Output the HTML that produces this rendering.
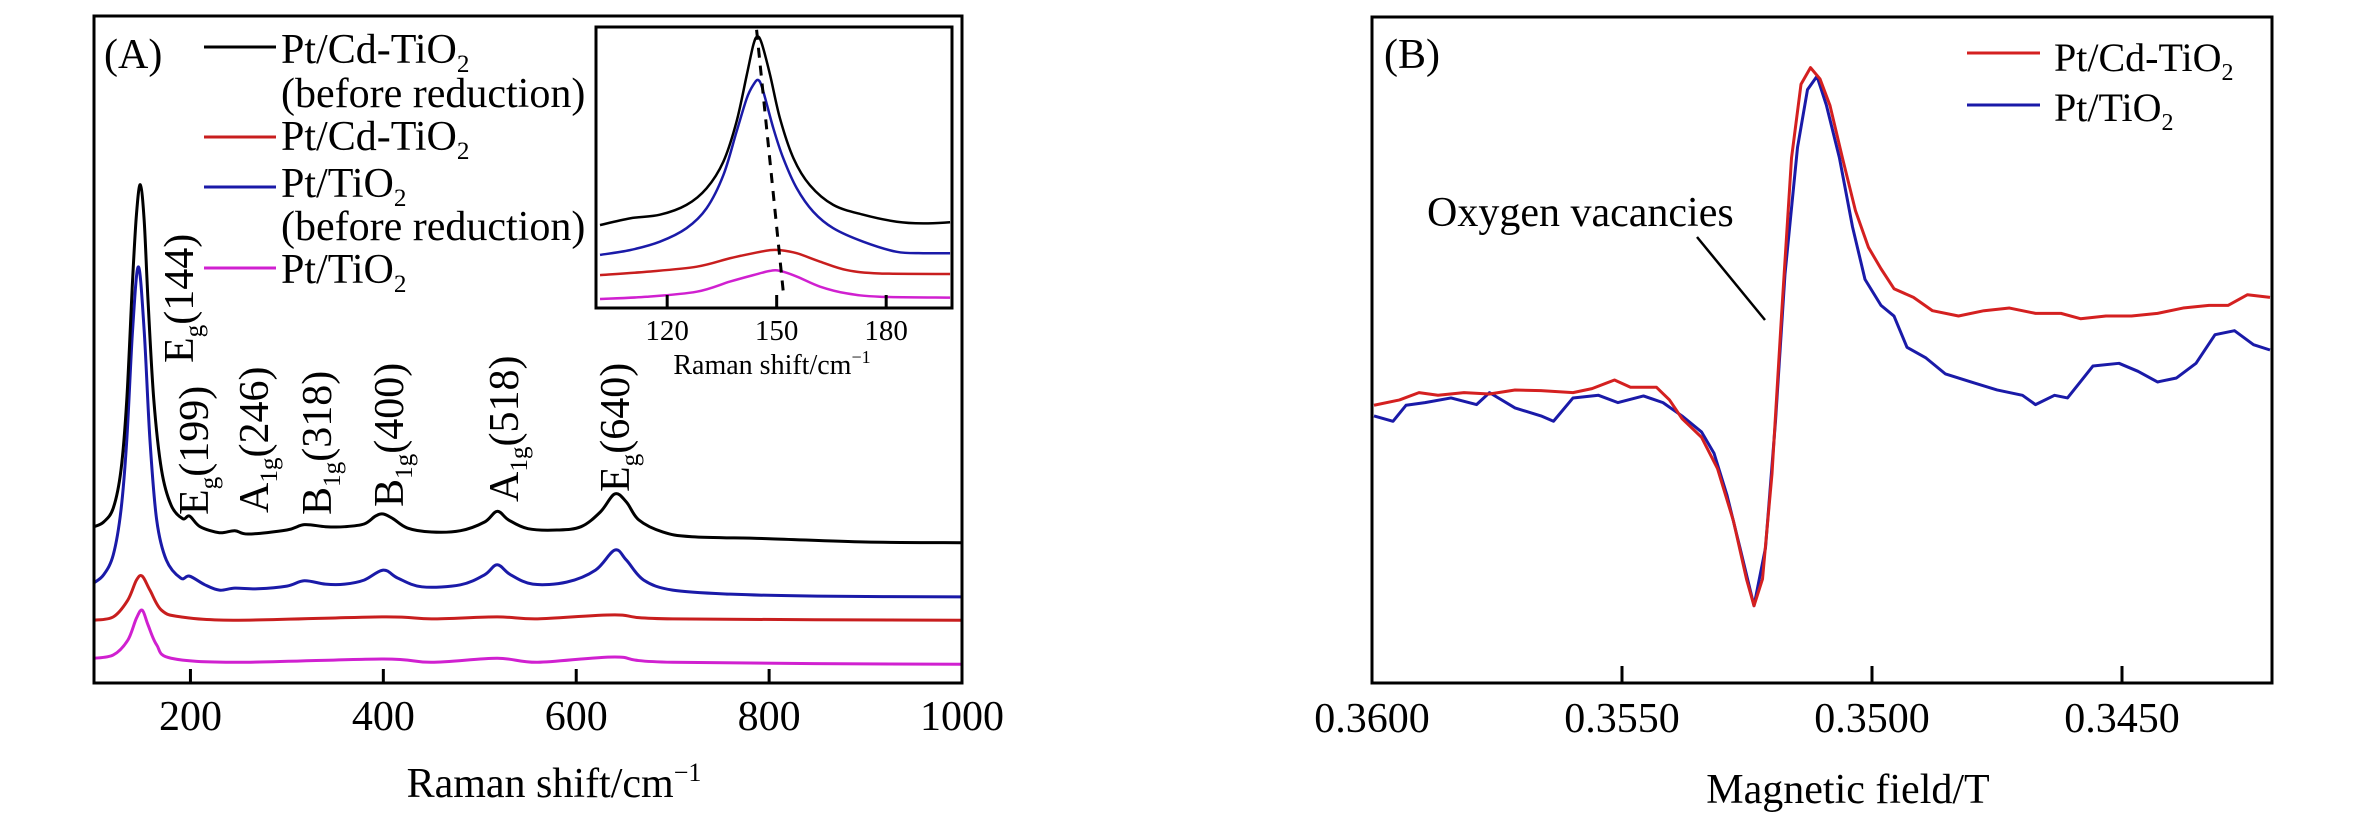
<!DOCTYPE html>
<html><head><meta charset="utf-8"><style>
html,body{margin:0;padding:0;background:#fff;}
svg{display:block;font-family:"Liberation Serif",serif;}
</style></head><body>
<svg id="fig" width="2362" height="819" viewBox="0 0 2362 819" xmlns="http://www.w3.org/2000/svg">
<rect x="0" y="0" width="2362" height="819" fill="#fff"/>
<g id="panelA"></g>
<g id="panelB"></g>
</svg>
<script>
// ---------- Panel A data (Raman) ----------
const ramanBlackX = [100,110,120,128,134,140,144,148,152,156,162,170,180,192,199,210,230,246,260,300,318,340,360,380,392,400,410,425,450,480,505,518,530,550,580,605,625,640,652,665,690,720,800,900,1000];
const ramanBlackY = [23.4,24.1,26.2,31.9,42.4,60.3,70.1,74.6,69.3,57.3,42.4,31.9,26.6,24.6,25.0,23.4,22.5,22.8,22.3,22.9,23.7,23.4,23.4,23.8,25.0,25.3,24.6,23.2,22.6,22.8,24.1,25.7,24.4,23.1,22.9,23.4,25.6,28.3,27.1,24.4,22.6,21.9,21.6,21.1,21.0];
const ramanBlueX = [100,110,120,128,134,140,146,152,158,165,175,190,199,215,230,246,270,300,318,340,360,380,400,415,440,480,505,518,532,555,590,620,640,652,670,700,760,850,1000];
const ramanBlueY = [15.0,16.2,19.2,25.9,36.4,52.8,62.3,52.8,36.4,24.4,18.4,15.7,16.0,14.7,13.9,14.2,14.1,14.5,15.3,14.8,14.8,15.4,16.9,15.7,14.4,14.7,16.2,17.7,16.2,14.8,15.1,16.9,19.9,18.4,15.4,13.9,13.3,13.0,12.9];
const ramanRedX = [100,120,135,144,150,158,170,190,250,400,450,518,560,640,700,1000];
const ramanRedY = [9.4,9.9,12.4,15.4,16.0,13.9,10.9,9.9,9.4,9.9,9.6,9.9,9.6,10.2,9.6,9.4];
const ramanMagX = [100,120,135,144,150,156,165,180,250,400,450,518,560,640,700,1000];
const ramanMagY = [3.7,4.2,6.4,9.7,10.9,8.7,5.7,3.7,3.1,3.6,3.1,3.7,3.1,3.9,3.1,2.8];
const ramanTicks = [200,400,600,800,1000];
const peakLabels = [["E","g","(144)"],["E","g","(199)"],["A","1g","(246)"],["B","1g","(318)"],["B","1g","(400)"],["A","1g","(518)"],["E","g","(640)"]];
// ---------- Inset data ----------
const insetBlackX = [101.6,109.8,118.0,125.3,130.8,135.4,139.0,141.8,143.6,144.7,145.9,148.2,150.9,154.6,159.1,165.5,173.7,182.9,190.2,197.5];
const insetBlackY = [29.5,31.9,33.2,36.7,42.6,52.1,66.3,82.9,93.6,96.6,94.2,82.9,67.5,53.3,43.7,36.7,33.2,30.7,30.1,30.5];
const insetBlueX = [101.6,109.8,118.0,125.3,130.8,135.4,139.0,141.8,143.6,145.0,146.3,149.1,151.8,155.5,160.0,165.5,173.7,182.9,190.2,197.5];
const insetBlueY = [18.9,20.6,23.6,28.4,35.5,47.3,62.7,74.6,79.4,81.1,77.2,63.9,53.3,42.6,34.3,28.4,23.6,20.0,19.5,19.5];
const insetRedX = [101.6,114.4,128.1,137.2,143.6,148.2,150.9,155.5,161.9,169.2,178.3,197.5];
const insetRedY = [11.7,12.9,14.7,17.7,19.5,20.6,20.6,19.5,16.5,13.5,12.3,12.1];
const insetMagX = [101.6,114.4,128.1,137.2,143.6,148.2,150.9,155.5,161.9,169.2,178.3,197.5];
const insetMagY = [3.2,4.0,5.8,9.4,11.7,13.2,13.2,11.2,7.6,5.2,4.0,3.7];
const insetTicks = [120,150,180];
const insetShiftX = [144.5,151.9];
const insetShiftY = [99,4.6];
// ---------- Panel B data (EPR) ----------
const eprRedX = [0.35996,0.35945,0.35906,0.35868,0.35816,0.35765,0.35714,0.35662,0.35598,0.35560,0.35515,0.35483,0.35431,0.35405,0.35380,0.35341,0.35309,0.35277,0.35251,0.35236,0.35219,0.35200,0.35181,0.35161,0.35142,0.35123,0.35104,0.35084,0.35059,0.35033,0.35007,0.34982,0.34956,0.34917,0.34879,0.34827,0.34776,0.34725,0.34673,0.34622,0.34583,0.34532,0.34481,0.34429,0.34378,0.34326,0.34288,0.34249,0.34204];
const eprRedY = [41.7,42.5,43.6,43.2,43.6,43.4,44.0,43.9,43.6,44.2,45.5,44.4,44.4,42.5,39.7,36.9,32.2,24.3,15.6,11.6,15.6,31.4,55.1,78.8,89.9,92.4,90.7,86.7,78.8,70.9,65.4,62.2,59.2,57.9,55.9,55.1,55.9,56.3,55.5,55.5,54.7,55.1,55.1,55.5,56.3,56.7,56.7,58.3,57.9];
const eprBlueX = [0.35996,0.35958,0.35932,0.35894,0.35842,0.35791,0.35765,0.35714,0.35662,0.35637,0.35598,0.35547,0.35508,0.35457,0.35418,0.35380,0.35341,0.35316,0.35290,0.35264,0.35236,0.35213,0.35193,0.35174,0.35149,0.35129,0.35110,0.35091,0.35065,0.35039,0.35014,0.34982,0.34956,0.34930,0.34892,0.34853,0.34802,0.34750,0.34699,0.34673,0.34635,0.34609,0.34558,0.34506,0.34468,0.34429,0.34391,0.34352,0.34314,0.34275,0.34237,0.34204];
const eprBlueY = [40.1,39.3,41.7,42.1,42.8,41.8,43.6,41.3,40.1,39.3,42.8,43.2,42.1,43.1,42.1,40.1,37.7,34.5,28.2,20.3,11.6,20.3,39.3,61.4,80.4,89.1,91.1,86.7,78.8,68.5,60.6,56.7,55.1,50.4,48.8,46.4,45.2,44.0,43.2,41.8,43.2,42.8,47.6,48.0,46.8,45.2,45.8,48.0,52.3,52.9,50.8,50.0];
const eprTicks = [0.3600,0.3550,0.3500,0.3450];
const eprTickLabels = ["0.3600","0.3550","0.3500","0.3450"];

const NS = "http://www.w3.org/2000/svg";
function mk(parent, tag, attrs){ const e=document.createElementNS(NS,tag); for(const k in attrs) e.setAttribute(k,attrs[k]); parent.appendChild(e); return e; }
function smoothPath(pts){
  let d = "M"+pts[0][0].toFixed(2)+","+pts[0][1].toFixed(2);
  for(let i=0;i<pts.length-1;i++){
    const p0=pts[Math.max(0,i-1)],p1=pts[i],p2=pts[i+1],p3=pts[Math.min(pts.length-1,i+2)];
    const c1x=p1[0]+(p2[0]-p0[0])/6,c1y=p1[1]+(p2[1]-p0[1])/6;
    const c2x=p2[0]-(p3[0]-p1[0])/6,c2y=p2[1]-(p3[1]-p1[1])/6;
    d+=" C"+c1x.toFixed(2)+","+c1y.toFixed(2)+" "+c2x.toFixed(2)+","+c2y.toFixed(2)+" "+p2[0].toFixed(2)+","+p2[1].toFixed(2);
  }
  return d;
}
function subText(parent, x, y, main, sub, tail, size, attrs){
  const t = mk(parent,"text",Object.assign({x:x,y:y,"font-size":size},attrs||{}));
  t.appendChild(document.createTextNode(main));
  const s = mk(t,"tspan",{"font-size":size*0.6,dy:size*0.22}); s.textContent=sub;
  const r = mk(t,"tspan",{dy:-size*0.22}); r.textContent=tail;
  return t;
}

// ---------- Panel A ----------
const A = document.getElementById("panelA");
const aL=94,aR=962,aT=16,aB=683;
const xA = v => aL + (v-100)*(aR-aL)/900;
const yA = v => aB - v*6.68;
function drawSeries(g, xs, ys, xf, yf, color, name, w){
  const pts = xs.map((x,i)=>[xf(x),yf(ys[i])]);
  const p = mk(g,"path",{d:smoothPath(pts),fill:"none",stroke:color,"stroke-width":w||3,"stroke-linejoin":"round"});
  
  
  return p;
}
const clipA = mk(A,"clipPath",{id:"clipA"}); mk(clipA,"rect",{x:aL,y:aT,width:aR-aL,height:aB-aT});
const curvesA = mk(A,"g",{"clip-path":"url(#clipA)",});
drawSeries(curvesA, ramanMagX, ramanMagY, xA, yA, "#d020d0", "series-pt-tio2");
drawSeries(curvesA, ramanRedX, ramanRedY, xA, yA, "#c81e1e", "series-pt-cd-tio2");
drawSeries(curvesA, ramanBlueX, ramanBlueY, xA, yA, "#1a1aa8", "series-pt-tio2-before");
drawSeries(curvesA, ramanBlackX, ramanBlackY, xA, yA, "#000", "series-pt-cd-tio2-before");
const frameA = mk(A,"rect",{x:aL,y:aT,width:aR-aL,height:aB-aT,fill:"none",stroke:"#000","stroke-width":3});
 
ramanTicks.forEach(v=>{
  const tk = mk(A,"line",{x1:xA(v),x2:xA(v),y1:aB,y2:aB-14,stroke:"#000","stroke-width":3});
   
  const tl = mk(A,"text",{x:xA(v),y:730,"font-size":42,"text-anchor":"middle"}); tl.textContent=String(v);
   
});
const titleA = mk(A,"text",{x:554,y:797,"font-size":42,"text-anchor":"middle"});
titleA.appendChild(document.createTextNode("Raman shift/cm"));
const supA = mk(titleA,"tspan",{"font-size":26,dy:-16}); supA.textContent="−1";
 
const labA = mk(A,"text",{x:104,y:68,"font-size":42}); labA.textContent="(A)";
 
// peak labels (rotated)
const peakCX = [179,194,254,317,389,504,615];
const peakBottom = [363,515,513,515,507,502,492];
peakLabels.forEach((p,i)=>{
  const bx = peakCX[i]+14, by = peakBottom[i];
  const t = subText(A, bx, by, p[0], p[1], p[2], 42, {transform:"rotate(-90 "+bx+" "+by+")"});
   
});
// legend
const legColors = ["#000","#c81e1e","#1a1aa8","#d020d0"];
const legLineY = [47,137,187,268];
const legText = [["Pt/Cd-TiO","2","",63],["(before reduction)","","",107],["Pt/Cd-TiO","2","",150],["Pt/TiO","2","",197],["(before reduction)","","",240],["Pt/TiO","2","",283]];
legColors.forEach((c,i)=>{
  const l = mk(A,"line",{x1:204,x2:276,y1:legLineY[i],y2:legLineY[i],stroke:c,"stroke-width":3});
   
});
legText.forEach(r=>{
  const t = r[1] ? subText(A,281,r[3],r[0],r[1],r[2],42) : mk(A,"text",{x:281,y:r[3],"font-size":42});
  if(!r[1]) t.textContent=r[0];
   
});
// inset
const iL=596,iR=952,iT=27,iB=308;
const xI = v => iL + (v-100.5)*3.65;
const yI = v => iB - v*2.81;
const insetG = mk(A,"g",{});
mk(insetG,"rect",{x:iL,y:iT,width:iR-iL,height:iB-iT,fill:"#fff"});
drawSeries(insetG, insetMagX, insetMagY, xI, yI, "#d020d0", "inset-series-pt-tio2", 2.5);
drawSeries(insetG, insetRedX, insetRedY, xI, yI, "#c81e1e", "inset-series-pt-cd-tio2", 2.5);
drawSeries(insetG, insetBlueX, insetBlueY, xI, yI, "#1a1aa8", "inset-series-pt-tio2-before", 2.5);
drawSeries(insetG, insetBlackX, insetBlackY, xI, yI, "#000", "inset-series-pt-cd-tio2-before", 2.5);
const dash = mk(insetG,"line",{x1:xI(insetShiftX[0]),y1:yI(insetShiftY[0]),x2:xI(insetShiftX[1]),y2:yI(insetShiftY[1]),stroke:"#000","stroke-width":3,"stroke-dasharray":"10,8"});
 
mk(insetG,"rect",{x:iL,y:iT,width:iR-iL,height:iB-iT,fill:"none",stroke:"#000","stroke-width":3});
insetTicks.forEach(v=>{
  const tk = mk(insetG,"line",{x1:xI(v),x2:xI(v),y1:iB,y2:iB-13,stroke:"#000","stroke-width":3});
   
  const tl = mk(insetG,"text",{x:xI(v),y:340,"font-size":29,"text-anchor":"middle"}); tl.textContent=String(v);
   
});
const it = mk(insetG,"text",{x:772,y:374,"font-size":28,"text-anchor":"middle"});
it.appendChild(document.createTextNode("Raman shift/cm"));
const its = mk(it,"tspan",{"font-size":18,dy:-11}); its.textContent="−1";
 

// ---------- Panel B ----------
const B = document.getElementById("panelB");
const bL=1372,bR=2272,bT=17,bB=683;
const xB = v => bL + (0.3600 - v)/0.005*250;
const yB = v => bB - v*6.66;
const clipB = mk(B,"clipPath",{id:"clipB"}); mk(clipB,"rect",{x:bL,y:bT,width:bR-bL,height:bB-bT});
const curvesB = mk(B,"g",{"clip-path":"url(#clipB)",});
function drawPoly(g, xs, ys, color, name){
  const pts = xs.map((x,i)=>xB(x).toFixed(2)+","+yB(ys[i]).toFixed(2)).join(" ");
  const p = mk(g,"polyline",{points:pts,fill:"none",stroke:color,"stroke-width":3,"stroke-linejoin":"round"});
  
  
}
drawPoly(curvesB, eprBlueX, eprBlueY, "#1a1aa8", "epr-series-pt-tio2");
drawPoly(curvesB, eprRedX, eprRedY, "#d42020", "epr-series-pt-cd-tio2");
const frameB = mk(B,"rect",{x:bL,y:bT,width:bR-bL,height:bB-bT,fill:"none",stroke:"#000","stroke-width":3});
 
eprTicks.forEach((v,i)=>{
  const tk = mk(B,"line",{x1:xB(v),x2:xB(v),y1:bB,y2:bB-17,stroke:"#000","stroke-width":3});
   
  const tl = mk(B,"text",{x:xB(v),y:732,"font-size":42,"text-anchor":"middle"}); tl.textContent=eprTickLabels[i];
   
});
const titleB = mk(B,"text",{x:1848,y:803,"font-size":42,"text-anchor":"middle"}); titleB.textContent="Magnetic field/T";
 
const labB = mk(B,"text",{x:1384,y:68,"font-size":42}); labB.textContent="(B)";
 
const ann = mk(B,"text",{x:1427,y:226,"font-size":42}); ann.textContent="Oxygen vacancies";
 
const annL = mk(B,"line",{x1:1697,y1:237,x2:1765,y2:320,stroke:"#000","stroke-width":2.5});
 
const lb1 = mk(B,"line",{x1:1967,x2:2040,y1:53,y2:53,stroke:"#d42020","stroke-width":3});
 
const lb2 = mk(B,"line",{x1:1967,x2:2040,y1:105,y2:105,stroke:"#1a1aa8","stroke-width":3});
 
const lt1 = subText(B,2054,71,"Pt/Cd-TiO","2","",40);
 
const lt2 = subText(B,2054,121,"Pt/TiO","2","",40);
 
</script>
</body></html>
